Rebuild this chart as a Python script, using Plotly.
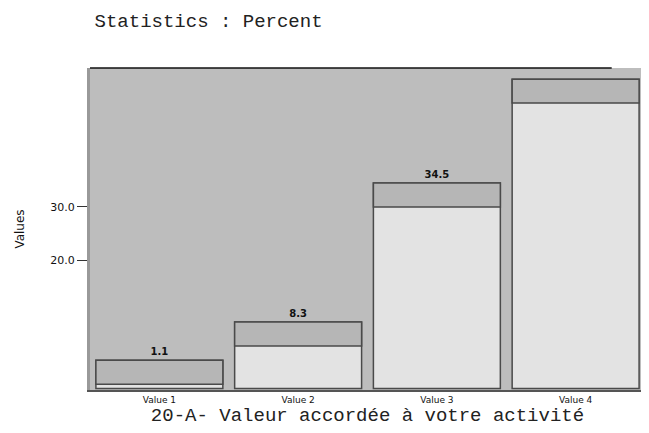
import plotly.graph_objects as go

categories = ["Value 1", "Value 2", "Value 3", "Value 4"]
values = [1.1, 8.3, 34.5, 54.1]
tick_vals = [20, 30]
tick_text = ["20.0", "30.0"]

Y_MIN = -4.5
Y_MAX = 56.2
BASE = -4.2
BAND = 4.5

labels = [f"<b>{v:.1f}</b>" if v + 4 < Y_MAX else "" for v in values]

fig = go.Figure()
# main light bars
fig.add_trace(go.Bar(
    x=categories, y=[v - BASE for v in values], base=BASE,
    marker=dict(color="#e3e3e3", line=dict(color="#4a4a4a", width=1.5)),
    text=labels, textposition="outside",
    textfont=dict(size=10, color="#111", family="DejaVu Sans"),
    cliponaxis=True, showlegend=False,
))
# darker top band (bevel)
fig.add_trace(go.Bar(
    x=categories, y=[min(BAND, v - BASE) for v in values],
    base=[max(BASE, v - BAND) for v in values],
    marker=dict(color="#b6b6b6", line=dict(color="#4a4a4a", width=1.5)),
    showlegend=False, hoverinfo="skip",
))

fig.update_layout(
    width=641, height=425,
    barmode="overlay", bargap=0.085,
    paper_bgcolor="white", plot_bgcolor="#bdbdbd",
    margin=dict(l=82, r=4, t=60, b=43, autoexpand=False),
    title=dict(text="Statistics : Percent", x=0.135, xanchor="left", y=0.972, yanchor="middle",
               font=dict(family="Liberation Mono", size=19, color="#222")),
    font=dict(family="DejaVu Sans", color="#111"),
)
fig.update_xaxes(
    showline=True, linecolor="#555", linewidth=2, mirror=False,
    tickfont=dict(size=9, family="DejaVu Sans"), ticks="",
    title=dict(text="20-A- Valeur accordée à votre activité",
               font=dict(family="Liberation Mono", size=19, color="#222"), standoff=0),
)
fig.update_yaxes(
    range=[Y_MIN, Y_MAX], tickvals=tick_vals, ticktext=tick_text,
    showgrid=False, zeroline=False, ticks="outside", ticklen=10, tickcolor="#333",
    showline=True, linecolor="#999", linewidth=3,
    tickfont=dict(size=11, family="DejaVu Sans"),
    title=dict(text="Values", font=dict(size=12, family="DejaVu Sans"), standoff=24),
)
fig.add_shape(type="line", xref="paper", yref="paper", x0=0, x1=0.94, y0=1, y1=1,
              line=dict(color="#111", width=1.5))

fig.write_html("out.html")
